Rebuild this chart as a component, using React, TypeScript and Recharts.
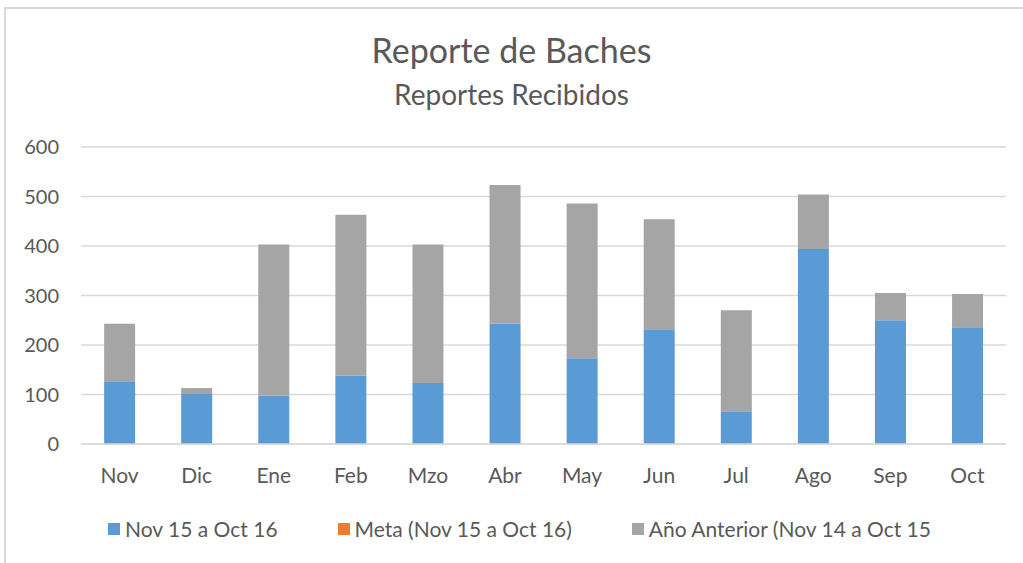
import React from 'react';
import { BarChart, Bar, XAxis, YAxis, CartesianGrid, Legend } from 'recharts';

// Months (Nov 15 - Oct 16)
const MONTHS = ['Nov', 'Dic', 'Ene', 'Feb', 'Mzo', 'Abr', 'May', 'Jun', 'Jul', 'Ago', 'Sep', 'Oct'];

// Reportes recibidos, Nov 15 a Oct 16
const ACTUAL = [127, 101, 98, 138, 123, 243, 173, 232, 66, 394, 250, 236];
// Meta (no values shown in the chart)
const META = [0, 0, 0, 0, 0, 0, 0, 0, 0, 0, 0, 0];
// Año anterior, stacked on top of the current year
const PREVIOUS = [116, 12, 305, 325, 280, 280, 313, 222, 204, 110, 55, 67];

const Y_TICKS = [0, 100, 200, 300, 400, 500, 600];

const SERIES = [
  { key: 'actual', name: 'Nov 15 a Oct 16', color: '#5b9bd5' },
  { key: 'meta', name: 'Meta (Nov 15 a Oct 16)', color: '#ed7d31' },
  { key: 'previous', name: 'Año Anterior (Nov 14 a Oct 15', color: '#a5a5a5' },
];

const data = MONTHS.map((m, i) => ({
  name: m,
  actual: ACTUAL[i],
  meta: META[i],
  previous: PREVIOUS[i],
}));

const FONT = 'Lato, "Open Sans", sans-serif';
const TEXT = '#595959';

// legend in series order (recharts would sort/reverse it otherwise)
const renderLegend = () => (
  <div style={{ display: 'flex', justifyContent: 'center', fontFamily: FONT, fontSize: 21, color: TEXT, paddingLeft: 2 }}>
    {SERIES.map((s, i) => (
      <div key={s.key} style={{ display: 'flex', alignItems: 'center', marginRight: i < SERIES.length - 1 ? 60 : 0 }}>
        <span style={{ display: 'inline-block', width: 12, height: 12, background: s.color, marginRight: 5 }} />
        <span>{s.name}</span>
      </div>
    ))}
  </div>
);

const App: React.FC = () => {
  return (
    <div
      style={{
        position: 'absolute',
        left: 0,
        top: 0,
        width: 1023,
        height: 563,
        background: '#fff',
        fontFamily: FONT,
        overflow: 'hidden',
      }}
    >
      {/* chart frame (only top and left edges are visible) */}
      <div style={{ position: 'absolute', left: 4, top: 7, width: 1030, height: 570, borderTop: '2px solid #d9d9d9', borderLeft: '2px solid #d9d9d9' }} />

      {/* Titles */}
      <div style={{ position: 'absolute', top: 29, width: '100%', textAlign: 'center', fontSize: 34, color: TEXT }}>
        Reporte de Baches
      </div>
      <div style={{ position: 'absolute', top: 77, width: '100%', textAlign: 'center', fontSize: 28, color: TEXT }}>
        Reportes Recibidos
      </div>

      <div style={{ position: 'absolute', left: 0, top: 0 }}>
        <BarChart
          width={1023}
          height={563}
          data={data}
          margin={{ top: 147, right: 17, left: 31, bottom: 22 }}
          barCategoryGap="30%"
        >
          <CartesianGrid vertical={false} stroke="#d9d9d9" strokeWidth={1.3} />
          <XAxis
            dataKey="name"
            axisLine={{ stroke: '#d9d9d9', strokeWidth: 1.3 }}
            tickLine={false}
            tickSize={0}
            tickMargin={24}
            height={72}
            tick={{ fill: TEXT, fontSize: 21, fontFamily: FONT }}
          />
          <YAxis
            domain={[0, 600]}
            ticks={Y_TICKS}
            width={50}
            axisLine={false}
            tickLine={false}
            tickSize={0}
            tickMargin={22}
            tick={{ fill: TEXT, fontSize: 20, fontFamily: FONT }}
          />
          <Legend verticalAlign="bottom" align="center" content={renderLegend} />
          {SERIES.map((s) => (
            <Bar key={s.key} dataKey={s.key} name={s.name} stackId="a" fill={s.color} isAnimationActive={false} />
          ))}
        </BarChart>
      </div>
    </div>
  );
};

export default App;
